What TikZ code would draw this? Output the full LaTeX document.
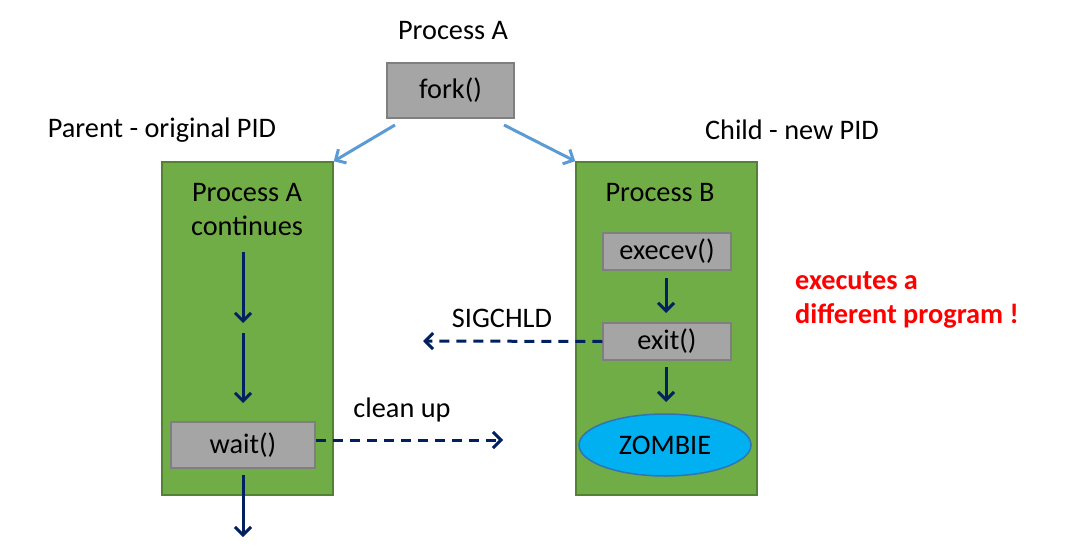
\documentclass[tikz,border=0pt]{standalone}
\usepackage{fontspec}
\setmainfont{Carlito}
\usepackage{tikz}
\usetikzlibrary{arrows.meta,shapes.geometric}
\definecolor{procgreen}{HTML}{70AD47}
\definecolor{procedge}{HTML}{548235}
\definecolor{callgray}{HTML}{A5A5A5}
\definecolor{calledge}{HTML}{7F7F7F}
\definecolor{flownavy}{HTML}{002060}
\definecolor{forkblue}{HTML}{5B9BD5}
\definecolor{zombieblue}{HTML}{00B0F0}
\definecolor{zombieedge}{HTML}{2E75B6}

\begin{document}
\begin{tikzpicture}[x=1pt,y=-1pt,>={Straight Barb[length=8pt,width=16pt]},
          every node/.style={font=\fontsize{28.3}{34}\selectfont,inner sep=0pt},
          proc node/.style={rectangle,draw=procedge,fill=procgreen,line width=1.5pt},
          call node/.style={rectangle,draw=calledge,fill=callgray,line width=1.5pt},
          flow/.style={->,color=flownavy,line width=3pt},
          signal/.style={flow,dash pattern=on 10pt off 7pt},
          split/.style={->,color=forkblue,line width=3pt}]
        \useasboundingbox (0,0) rectangle (1083,548);

        % process boxes
        \node[proc node,minimum width=171pt,minimum height=333pt] (parent) at (247.5,328.5) {};
        \node[proc node,minimum width=181pt,minimum height=333pt] (child) at (666.5,328.5) {};

        % system calls
        \node[call node,minimum width=127pt,minimum height=55pt] (fork) at (450.5,90.5) {fork()};
        \node[call node,minimum width=128pt,minimum height=37pt] (execev) at (667,251.5) {execev()};
        \node[call node,minimum width=128pt,minimum height=37pt] (exit) at (667,341.5) {exit()};
        \node[call node,minimum width=144pt,minimum height=46pt] (wait) at (243,445) {wait()};
        \node[ellipse,draw=zombieedge,fill=zombieblue,line width=1.5pt,
              minimum width=172pt,minimum height=62pt] (zombie) at (665,445) {ZOMBIE};

        % labels
        \node (top) at (453,31) {Process A};
        \node (parentlbl) at (162,130) {Parent - original PID};
        \node (childlbl) at (792,130) {Child - new PID};
        \node[align=center] (pa) at (247,210) {Process A\\continues};
        \node (pb) at (660,193) {Process B};
        \node (sig) at (502,318) {SIGCHLD};
        \node (clean) at (402,410) {clean up};
        \node[align=left,anchor=west,text=red,font=\fontsize{28.3}{34}\selectfont\bfseries]
              (note) at (795,300) {executes a\\different program !};

        % free ends
        \coordinate (f1) at (395,125);
        \coordinate (f2) at (504,125);
        \coordinate (a1) at (243,252);
        \coordinate (a2) at (243,323);
        \coordinate (a3) at (243,333);
        \coordinate (a4) at (243,403);
        \coordinate (w1) at (243,475);
        \coordinate (a5) at (243,537);
        \coordinate (b1) at (666,278);
        \coordinate (b2) at (666,313);
        \coordinate (b3) at (666,367);
        \coordinate (b4) at (666,402);
        \coordinate (s1) at (423,341);
        \coordinate (c1) at (503,440);

        \path[split]
        (f1) edge (parent.north east)
        (f2) edge (child.north west);
        \path[flow]
        (a1) edge (a2)
        (a3) edge (a4)
        (w1) edge (a5)
        (b1) edge (b2)
        (b3) edge (b4);
        \path[signal]
        (exit.west) edge (s1)
        ([yshift=5pt]wait.east) edge (c1);
      \end{tikzpicture}
\end{document}
